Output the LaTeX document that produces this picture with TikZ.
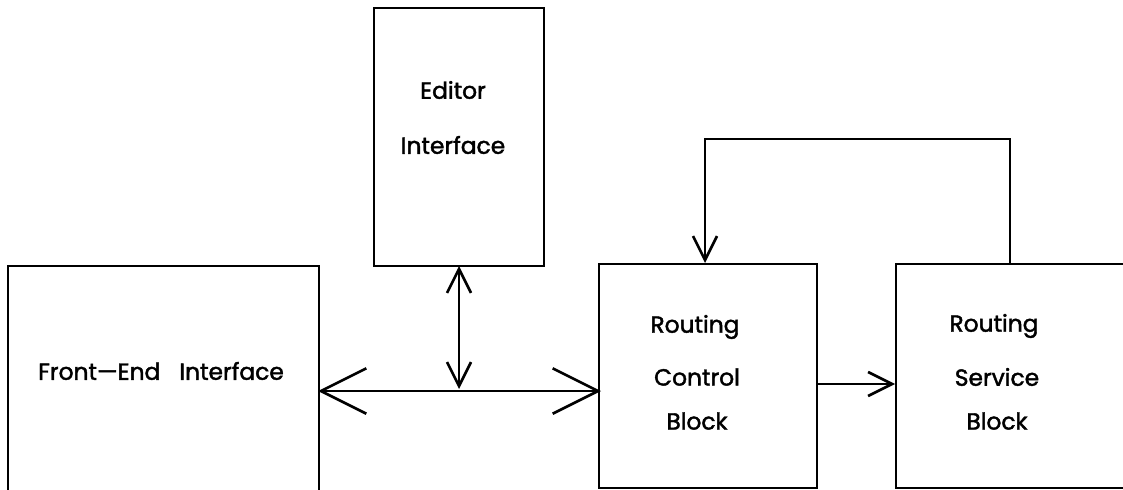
\documentclass[tikz,border=0pt]{standalone}
\usepackage{fontspec}
\setmainfont{Poppins}
\newfontfamily\lblfont{Poppins}[FakeBold=1.8]
\usetikzlibrary{arrows.meta}
\begin{document}
\begin{tikzpicture}[x=0.75pt,y=-0.75pt,
  box/.style={draw, line width=1.7pt, inner sep=0pt, anchor=north west},
  lbl/.style={font=\lblfont\fontsize{17.5}{20}\selectfont, inner sep=0pt},
  bigtip/.tip={Straight Barb[length=34pt,width=34pt,line width=2pt]},
  smalltip/.tip={Straight Barb[length=18pt,width=18pt,line width=2pt]},
  conn/.style={line width=1.6pt}
]
\useasboundingbox (0,0) rectangle (1123,489);
\clip (0,0) rectangle (1123,489);
\fill[white] (0,0) rectangle (1123,489);

\node[box, minimum width=233.25pt, minimum height=191.25pt] (fe) at (7,265) {};
\node[box, minimum width=127.5pt, minimum height=193.5pt] (ed) at (373,7) {};
\node[box, minimum width=163.5pt, minimum height=168pt] (ctl) at (598,263) {};
\node[box, minimum width=198.75pt, minimum height=168pt] (svc) at (895,263) {};

\node[lbl] (tfe) at (161,371) {Front—End\hspace{0.55em} Interface};
\node[lbl] (ted1) at (453,90) {Editor};
\node[lbl] (ted2) at (453,145) {Interface};
\node[lbl] (tc1) at (695,327) {Routing};
\node[lbl] (tc2) at (697,377) {Control};
\node[lbl] (tc3) at (697,421) {Block};
\node[lbl] (ts1) at (994,326) {Routing};
\node[lbl] (ts2) at (997,377) {Service};
\node[lbl] (ts3) at (997,421) {Block};

\coordinate (hl) at (318,391);
\coordinate (hr) at (601,391);
\coordinate (vj) at (459,389);
\coordinate (vt) at (459,266);
\draw[conn, bigtip-bigtip] (hl) -- (hr);
\draw[conn, smalltip-smalltip] (vt) -- (vj);

\coordinate (cs1) at (816,384);
\coordinate (cs2) at (895,384);
\draw[conn, -smalltip] (cs1) -- (cs2);

\coordinate (fb1) at (1010,263);
\coordinate (fb2) at (705,263);
\draw[conn, -smalltip] (fb1) -- ++(0,-124) -| (fb2);
\end{tikzpicture}
\end{document}
